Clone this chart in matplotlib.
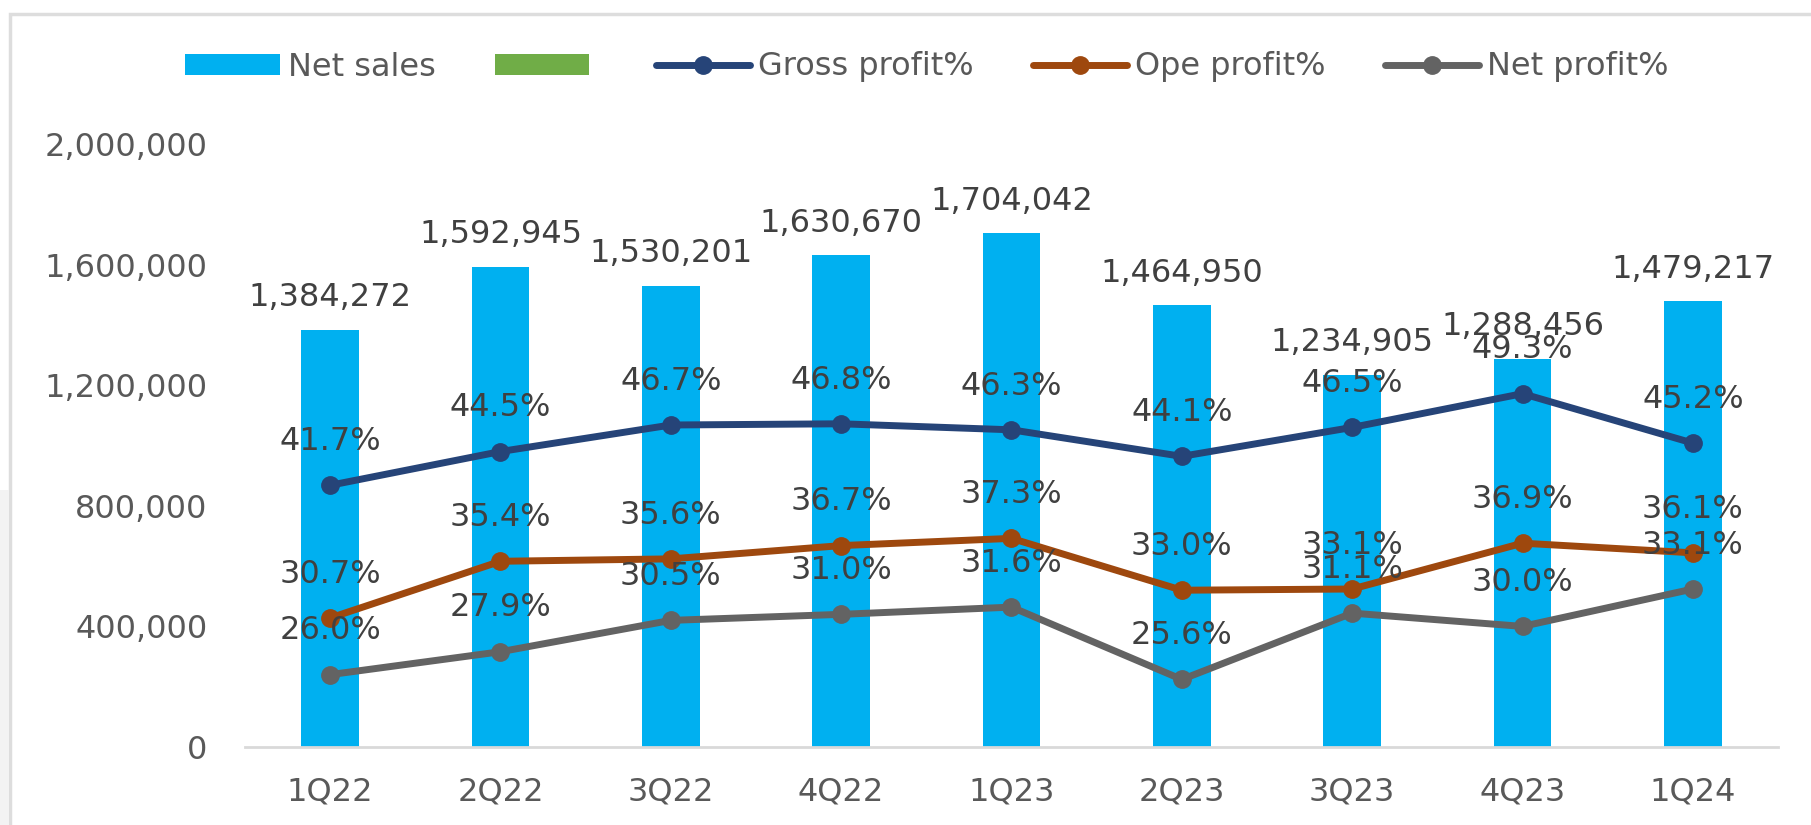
import matplotlib
matplotlib.use("Agg")
import matplotlib.pyplot as plt
from matplotlib.patches import Patch, Rectangle
from matplotlib.lines import Line2D
from matplotlib.ticker import FuncFormatter

categories = ["1Q22", "2Q22", "3Q22", "4Q22", "1Q23", "2Q23", "3Q23", "4Q23", "1Q24"]
net_sales = [1384272, 1592945, 1530201, 1630670, 1704042, 1464950, 1234905, 1288456, 1479217]
gross_pct = [41.7, 44.5, 46.7, 46.8, 46.3, 44.1, 46.5, 49.3, 45.2]
ope_pct = [30.7, 35.4, 35.6, 36.7, 37.3, 33.0, 33.1, 36.9, 36.1]
net_pct = [26.0, 27.9, 30.5, 31.0, 31.6, 25.6, 31.1, 30.0, 33.1]
y_ticks = [0, 400000, 800000, 1200000, 1600000, 2000000]

C_BAR = "#00B0F0"
C_GREEN = "#70AD47"
C_GROSS = "#264478"
C_OPE = "#9E480E"
C_NET = "#636363"
C_TICK = "#595959"
C_LBL = "#404040"

plt.rcParams['font.family'] = ['DejaVu Sans']

W, H = 1811, 825
fig = plt.figure(figsize=(W / 100, H / 100), dpi=100)

# outer frame
fig.patches.append(Rectangle((10 / W, -0.1), 1.2, 1 - 14 / H + 0.1, transform=fig.transFigure,
                             fill=False, edgecolor="#DDDDDD", linewidth=2.5, zorder=0))
fig.patches.append(Rectangle((0, 0), 9 / W, 1 - 490 / H, transform=fig.transFigure,
                             facecolor="#F3F3F3", edgecolor="none", zorder=0))

left, right = 245 / W, 1778 / W
bottom, top = 1 - 747 / H, 1 - 144 / H
ax = fig.add_axes([left, bottom, right - left, top - bottom])
x = list(range(len(categories)))

ax.bar(x, net_sales, width=0.34, color=C_BAR, zorder=2)
ax.set_xlim(-0.5, len(categories) - 0.5)
ax.set_ylim(0, 2000000)
ax.set_yticks(y_ticks)
ax.yaxis.set_major_formatter(FuncFormatter(lambda v, p: f"{int(v):,}"))
ax.set_xticks(x)
ax.set_xticklabels(categories)
ax.tick_params(axis='y', length=0, pad=27, labelsize=23, labelcolor=C_TICK)
ax.tick_params(axis='x', length=0, pad=21, labelsize=23, labelcolor=C_TICK)
for s in ["top", "right", "left"]:
    ax.spines[s].set_visible(False)
ax.spines["bottom"].set_color("#D9D9D9")
ax.spines["bottom"].set_linewidth(2)

for xi, v in zip(x, net_sales):
    ax.annotate(f"{v:,}", (xi, v), xytext=(0, 23), textcoords="offset points",
                ha="center", va="center", fontsize=23, color=C_LBL, zorder=5,
                annotation_clip=False)

ax2 = ax.twinx()
ax2.set_ylim(20, 70)
ax2.axis("off")
ax2.patch.set_visible(False)

series = [(gross_pct, C_GROSS), (ope_pct, C_OPE), (net_pct, C_NET)]
for vals, col in series:
    ax2.plot(x, vals, color=col, lw=5, marker="o", markersize=12.5, zorder=3,
             solid_capstyle="round")
for vals, col in series:
    for xi, v in zip(x, vals):
        ax2.annotate(f"{v:.1f}%", (xi, v), xytext=(0, 31.5), textcoords="offset points",
                     ha="center", va="center", fontsize=23, color=C_LBL, zorder=6,
                     annotation_clip=False)

handles = [
    Patch(facecolor=C_BAR, edgecolor="none"),
    Patch(facecolor=C_GREEN, edgecolor="none"),
    Line2D([], [], color=C_GROSS, lw=5, marker="o", markersize=12.5, solid_capstyle="round"),
    Line2D([], [], color=C_OPE, lw=5, marker="o", markersize=12.5, solid_capstyle="round"),
    Line2D([], [], color=C_NET, lw=5, marker="o", markersize=12.5, solid_capstyle="round"),
]
labels = ["Net sales", "", "Gross profit%", "Ope profit%", "Net profit%"]
leg = fig.legend(handles, labels, ncol=5, loc="center", bbox_to_anchor=(927 / W, 1 - 67 / H),
                 frameon=False, fontsize=23, handlelength=2.95, handleheight=0.65,
                 handletextpad=0.25, columnspacing=1.85, borderpad=0, borderaxespad=0)
for t in leg.get_texts():
    t.set_color(C_TICK)

fig.savefig("out.png", dpi=100)
